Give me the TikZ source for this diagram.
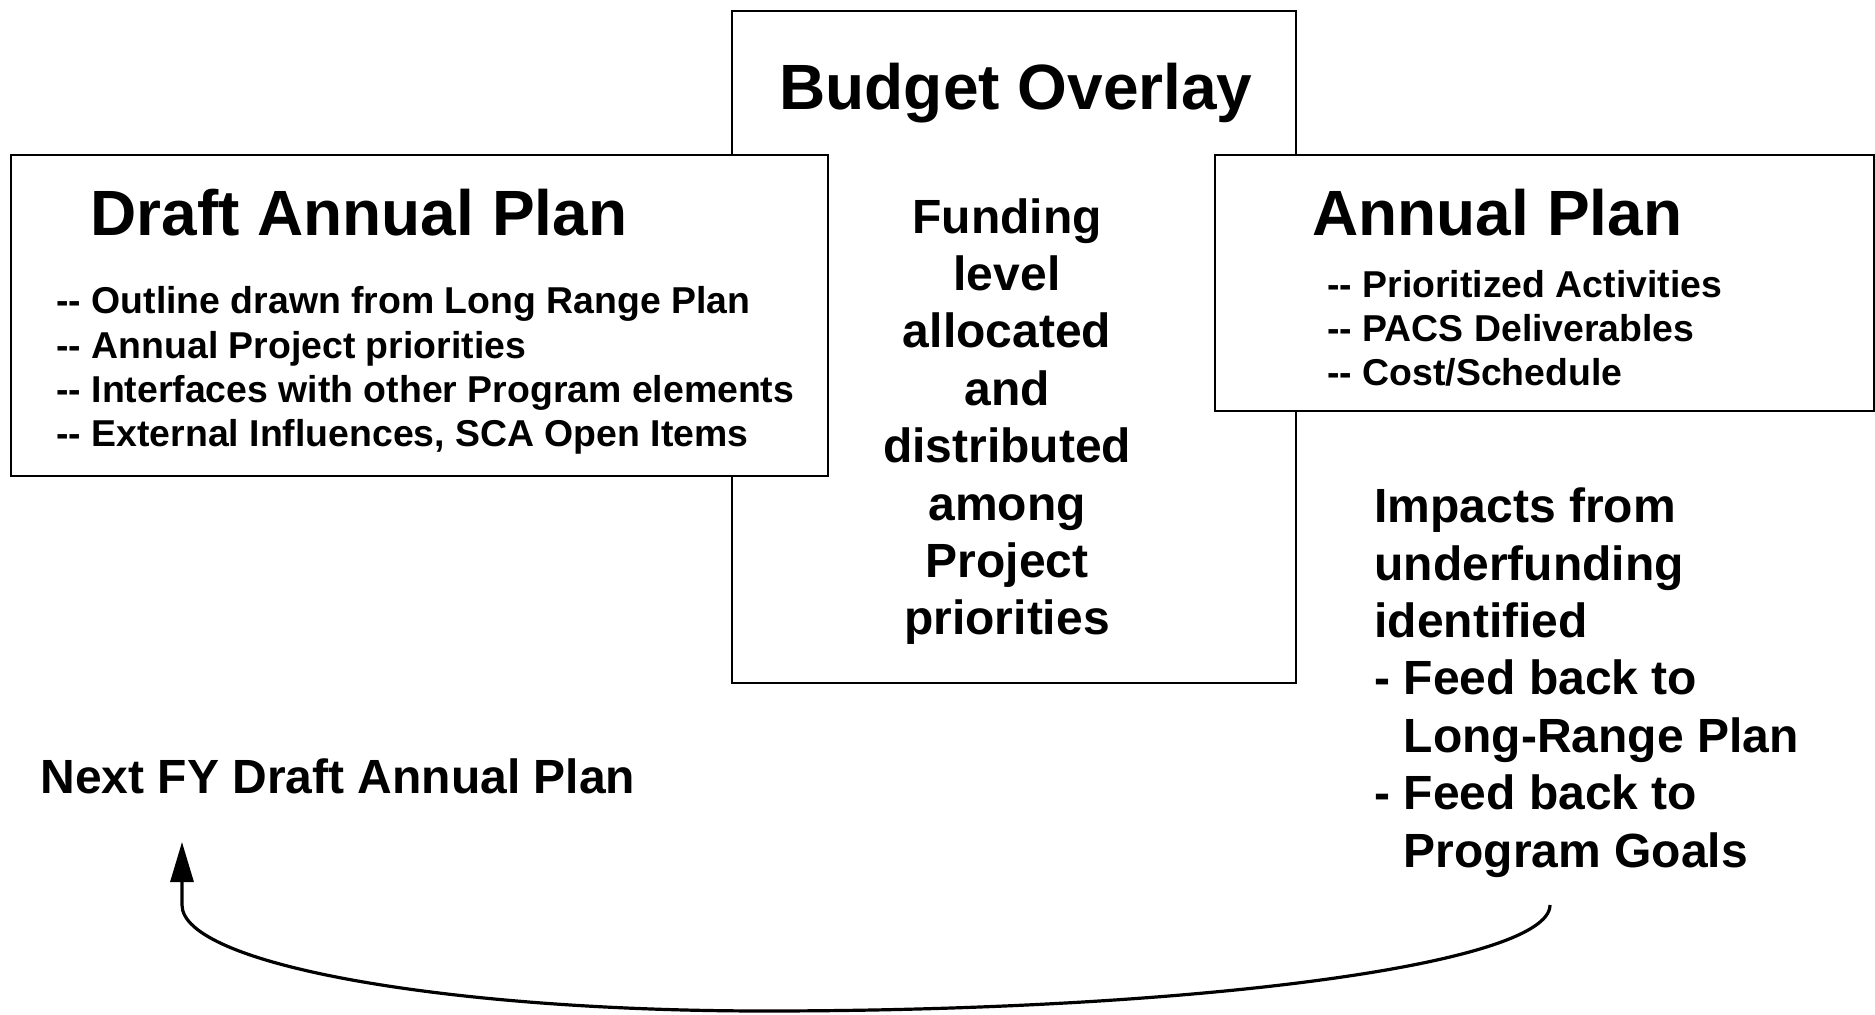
\documentclass[tikz,border=0pt]{standalone}
\usepackage{fontspec}
\setmainfont{Liberation Sans}
\usetikzlibrary{arrows.meta}

% two plain hyphens, kept apart so they do not become a dash
\newcommand{\twohyph}{-\kern0pt-}

\begin{document}
\begin{tikzpicture}[
    x=0.5pt, y=-0.5pt,
    panel/.style={draw, line width=1.1pt, fill=white, inner sep=0pt, anchor=north west},
    head/.style={font=\fontsize{32}{36}\selectfont\bfseries, inner sep=0pt},
    items/.style={font=\fontsize{18.7}{22.2}\selectfont\bfseries, align=left, inner sep=0pt},
    body/.style={font=\fontsize{24}{28.7}\selectfont\bfseries, inner sep=0pt},
    arrow/.style={-{Triangle[length=20pt, width=11.5pt]}, line width=1.6pt}
]
\useasboundingbox (0,0) rectangle (1875,1015);

% boxes
\node[panel, minimum width=282pt, minimum height=336pt] (budget) at (731,10) {};
\node[panel, minimum width=408.5pt, minimum height=160.5pt] (draft) at (10,154) {};
\node[panel, minimum width=329.5pt, minimum height=128pt] (plan) at (1214,154) {};

% budget overlay (multi-line nodes sit on their last baseline)
\node[head, anchor=base] (budgettitle) at (1016,110) {Budget Overlay};
\node[body, align=center, anchor=base] (funding) at (1007,635)
    {Funding\\level\\allocated\\and\\distributed\\among\\Project\\priorities};

% draft annual plan
\node[head, anchor=base west] (drafttitle) at (90,236) {Draft Annual Plan};
\node[items, anchor=base west] (draftitems) at (56,447)
    {\twohyph{} Outline drawn from Long Range Plan\\
     \twohyph{} Annual Project priorities\\
     \twohyph{} Interfaces with other Program elements\\
     \twohyph{} External Influences, SCA Open Items};

% annual plan
\node[head, anchor=base west] (plantitle) at (1312,236) {Annual Plan};
\node[items, anchor=base west] (planitems) at (1327,386)
    {\twohyph{} Prioritized Activities\\
     \twohyph{} PACS Deliverables\\
     \twohyph{} Cost/Schedule};

% feedback
\node[body, align=left, anchor=base west] (impacts) at (1374,867)
    {Impacts from\\underfunding\\identified\\
     - Feed back to\\\phantom{- }Long-Range Plan\\
     - Feed back to\\\phantom{- }Program Goals};
\node[body, anchor=base west] (nextfy) at (40,793) {Next FY Draft Annual Plan};

\coordinate (loopstart) at (1550,905);
\coordinate (loopend) at (182,842);
\draw[arrow] (loopstart) .. controls (1550,964) and (1198,1011) .. (765,1011)
    .. controls (443,1011) and (182,964) .. (182,905) -- (loopend);

\end{tikzpicture}
\end{document}
